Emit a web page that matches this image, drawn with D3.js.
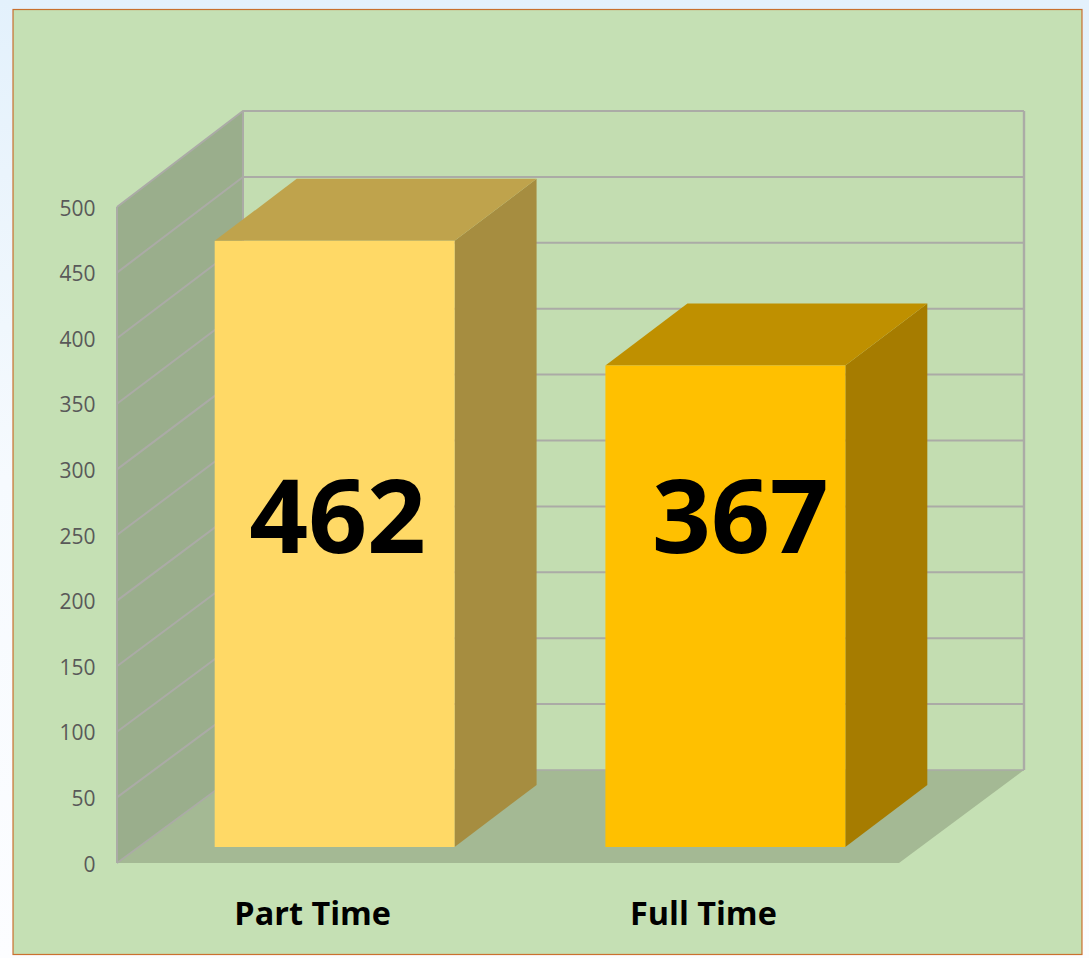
<!DOCTYPE html>
<html><head><meta charset="utf-8">
<script src="https://cdnjs.cloudflare.com/ajax/libs/d3/7.8.5/d3.min.js"></script>
<style>html,body{margin:0;padding:0;background:#fff;overflow:hidden}svg{display:block}</style>
</head><body><svg id="c" width="1089" height="958"></svg>
<script>
const categories = ["Part Time", "Full Time"];
const values = [462, 367];
const frontColors = ["#FFD966", "#FFC000"];
const topColors = ["#BFA34C", "#BF9000"];
const sideColors = ["#A68D40", "#A67C00"];
const yTicks = [0,50,100,150,200,250,300,350,400,450,500];

const svg = d3.select("#c");
const defs = svg.append("defs");
const g = defs.append("linearGradient").attr("id","page").attr("x1",0).attr("y1",0).attr("x2",0).attr("y2",1);
g.append("stop").attr("offset",0).attr("stop-color","#E3F1FC");
g.append("stop").attr("offset",0.18).attr("stop-color","#EAF4FC");
g.append("stop").attr("offset",0.5).attr("stop-color","#F6FAFE");
g.append("stop").attr("offset",1).attr("stop-color","#FCFDFF");
svg.append("rect").attr("width",1089).attr("height",958).attr("fill","url(#page)");
svg.append("rect").attr("x",13).attr("y",9.5).attr("width",1069).attr("height",945)
  .attr("fill","#C5E0B4").attr("stroke","#C55A11").attr("stroke-opacity",0.85).attr("stroke-width",1.2);

const x0 = 117, floorW = 782, depthX = 126;
const y = d3.scaleLinear().domain([0,500]).range([863,207]);      // front axis
const yBack = d3.scaleLinear().domain([0,500]).range([770,111]);  // back wall
const line = d3.line();
const xb = x0 + depthX, xe = xb + floorW - 1;

// back wall
svg.append("path").attr("d",line([[xb,yBack(0)],[xe,yBack(0)],[xe,yBack(500)],[xb,yBack(500)]])+"Z").attr("fill","#C3DDB1");
// side wall
svg.append("path").attr("d",line([[x0,y(0)],[xb,yBack(0)],[xb,yBack(500)],[x0,y(500)]])+"Z").attr("fill","#9AAE8C");
// floor
svg.append("path").attr("d",line([[x0,y(0)],[xb,yBack(0)],[xe,yBack(0)],[x0+floorW,y(0)]])+"Z").attr("fill","#A4B994");

// gridlines
const grid = "#ABABA6";
svg.append("g").selectAll("path").data(yTicks).join("path")
  .attr("d",d=>line([[x0,y(d)],[xb,yBack(d)],[xe,yBack(d)]]))
  .attr("fill","none").attr("stroke",grid).attr("stroke-width",d=>d===0?1.6:2);
svg.append("path").attr("d",line([[x0,y(0)],[x0,y(500)]])).attr("stroke",grid).attr("stroke-width",2).attr("fill","none");
svg.append("path").attr("d",line([[xb,yBack(0)],[xb,yBack(500)]])).attr("stroke",grid).attr("stroke-width",2).attr("fill","none");
svg.append("path").attr("d",line([[xe,yBack(0)],[xe,yBack(500)]])).attr("stroke",grid).attr("stroke-width",2.4).attr("fill","none");

// bars
const bx = d3.scaleBand().domain(categories).range([117,943]).paddingInner(0.386).paddingOuter(0.25);
const barDX = 82, barDY = -62, lift = 16;
const bars = svg.append("g").selectAll("g").data(categories).join("g");
bars.each(function(c,i){
  const s = d3.select(this), l = bx(c), r = l + bx.bandwidth(),
        b = y(0)-lift, t = y(values[i])-lift;
  s.append("path").attr("fill",sideColors[i]).attr("d",line([[r,b],[r+barDX,b+barDY],[r+barDX,t+barDY],[r,t]])+"Z");
  s.append("path").attr("fill",topColors[i]).attr("d",line([[l,t],[l+barDX,t+barDY],[r+barDX,t+barDY],[r,t]])+"Z");
  s.append("rect").attr("x",l).attr("y",t).attr("width",r-l).attr("height",b-t).attr("fill",frontColors[i]);
  s.append("text").text(values[i]).attr("x",(l+r)/2+(i?15:3)).attr("y",553)
    .attr("text-anchor","middle").attr("font-family","Open Sans").attr("font-weight",700).attr("font-size",103).attr("fill","#000");
  s.append("text").text(c).attr("x",(l+r)/2-22).attr("y",925)
    .attr("text-anchor","middle").attr("font-family","Open Sans").attr("font-weight",700).attr("font-size",32.4).attr("fill","#000");
});

// y tick labels
svg.append("g").selectAll("text").data(yTicks).join("text").text(d=>d)
  .attr("x",95.5).attr("y",d=>y(d)+8.5).attr("text-anchor","end")
  .attr("font-family","Open Sans").attr("font-size",21).attr("fill","#595959");
</script></body></html>
